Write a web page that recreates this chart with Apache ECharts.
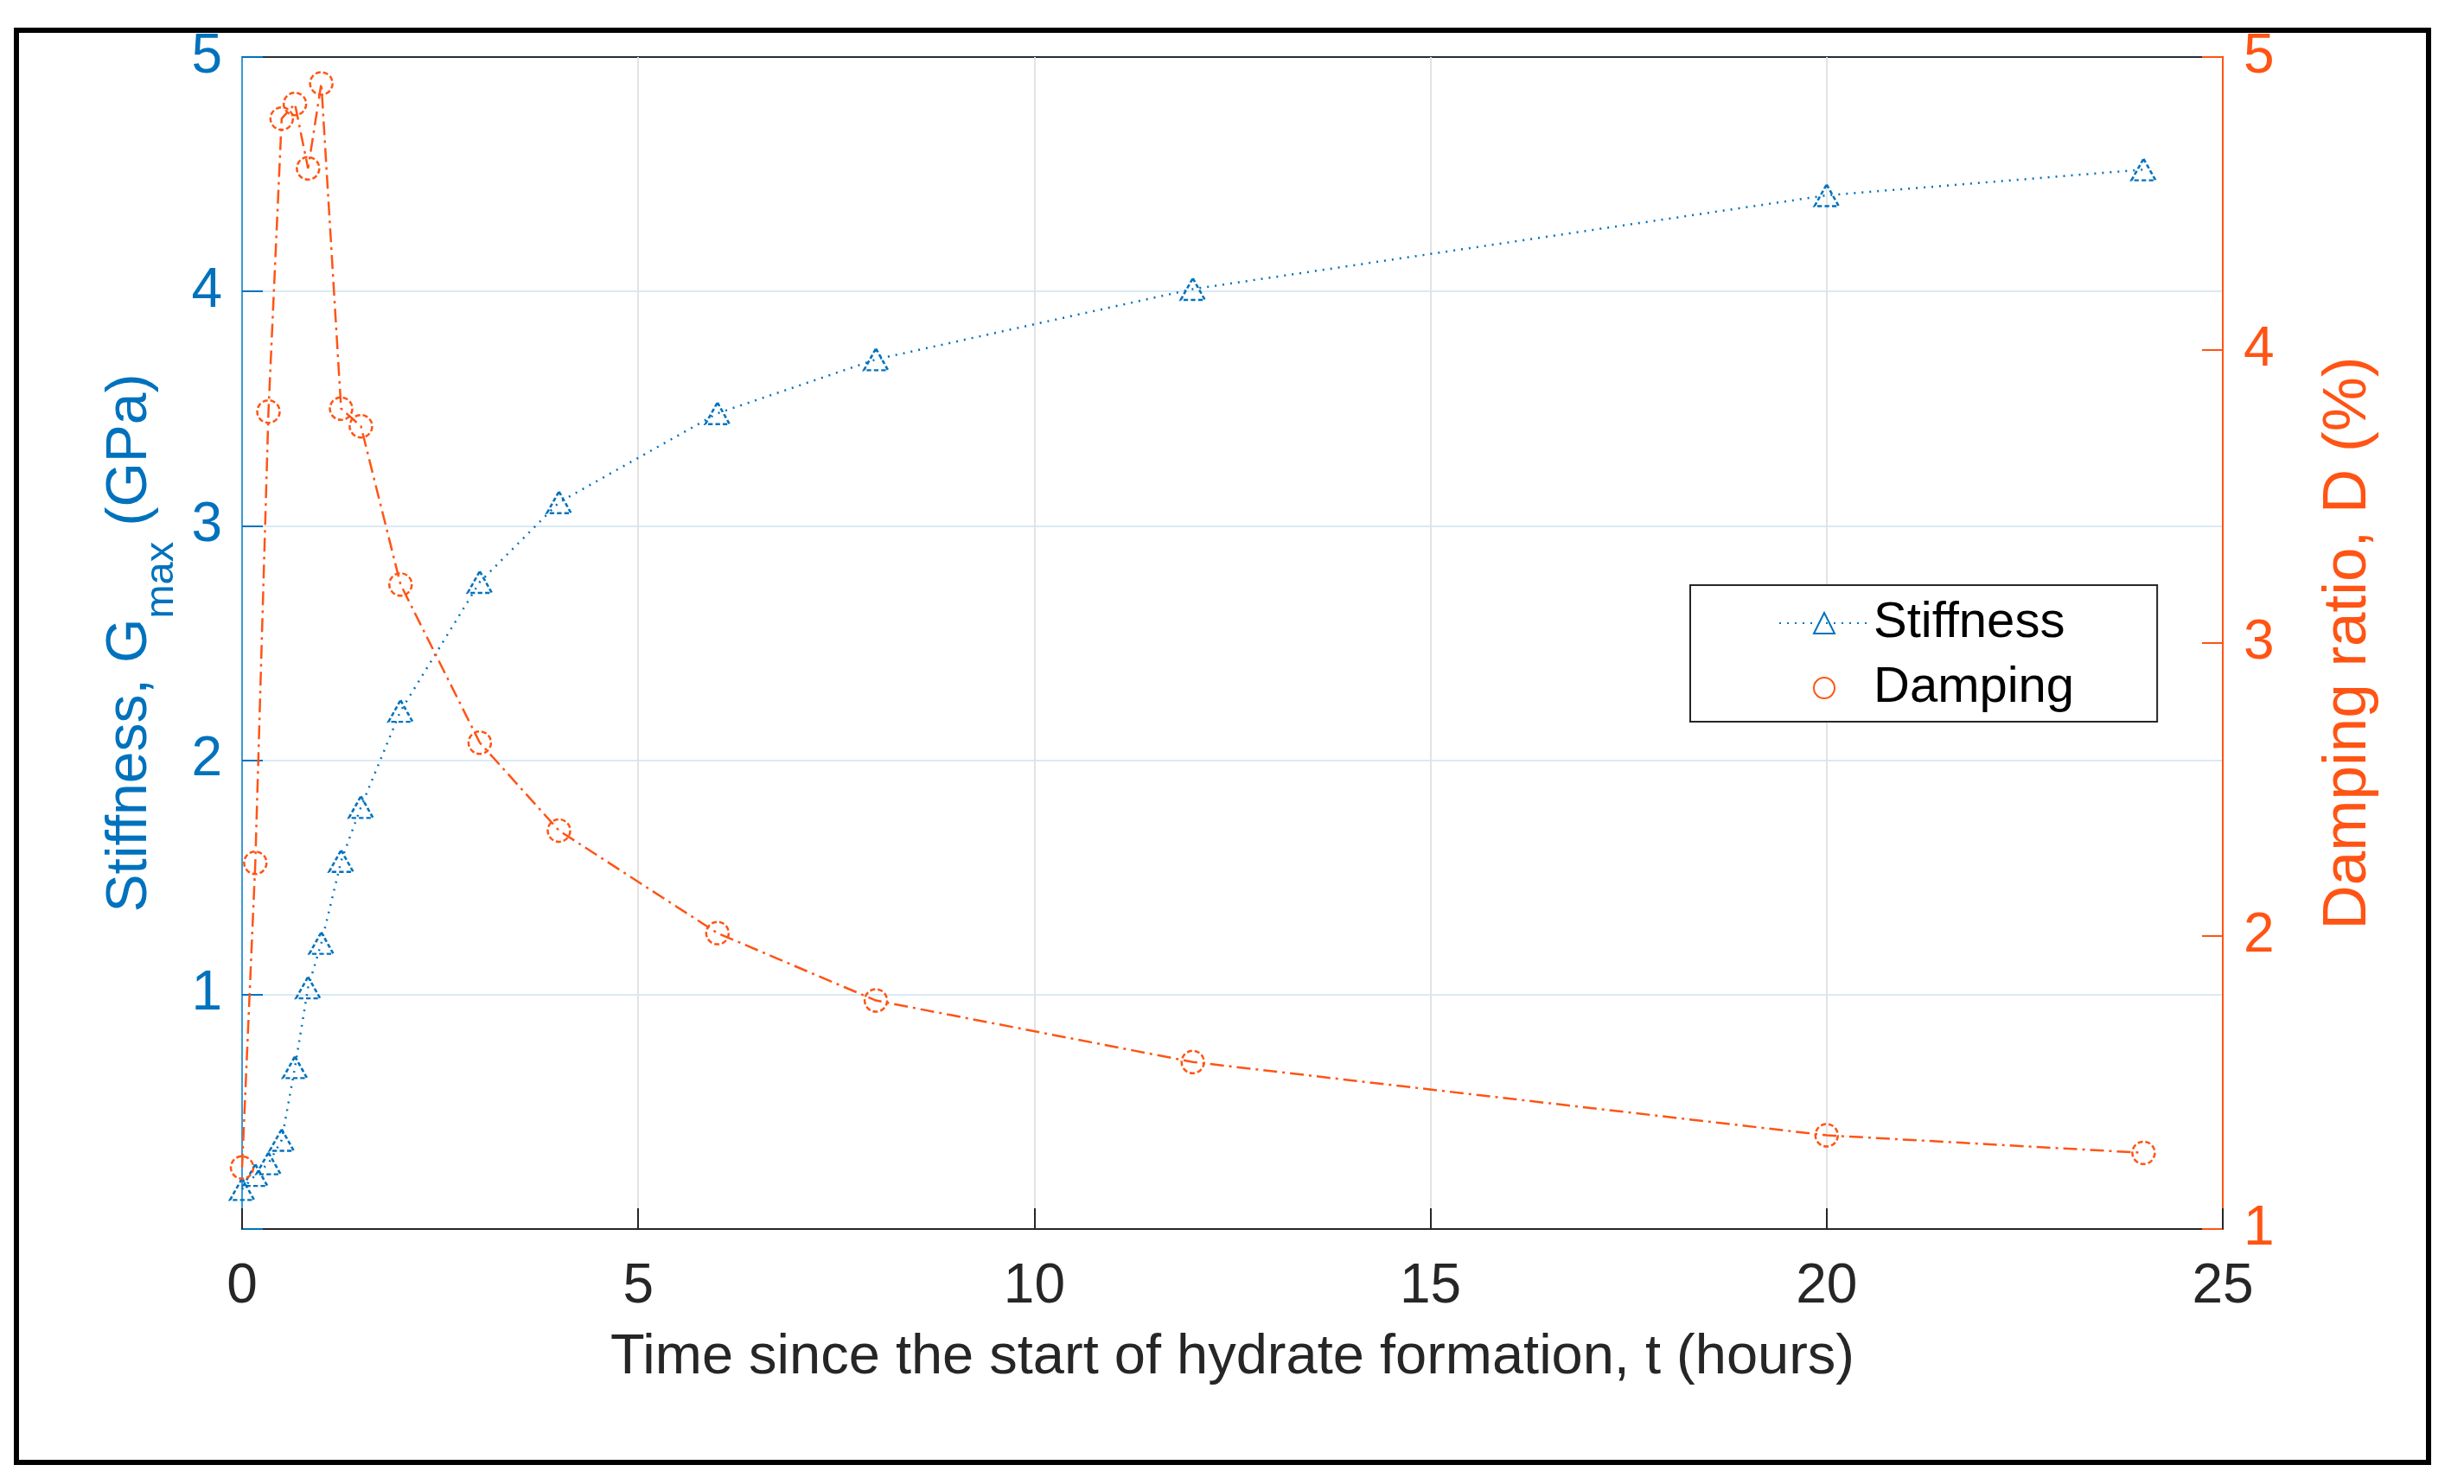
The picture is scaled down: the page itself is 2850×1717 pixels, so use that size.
<!DOCTYPE html>
<html><head><meta charset="utf-8">
<script src="https://cdn.jsdelivr.net/npm/echarts@6/dist/echarts.min.js"></script>
<style>html,body{margin:0;padding:0;background:#fff}#c{width:2850px;height:1717px}</style>
</head><body><div id="c"></div>
<script>
const timeHours = [0, 0.167, 0.333, 0.5, 0.667, 0.833, 1, 1.25, 1.5, 2, 3, 4, 6, 8, 12, 20, 24];
const stiffnessGPa = [0.17, 0.23, 0.28, 0.38, 0.69, 1.03, 1.22, 1.57, 1.80, 2.21, 2.76, 3.10, 3.48, 3.71, 4.01, 4.41, 4.52];
const dampingPct = [1.21, 2.25, 3.79, 4.79, 4.84, 4.62, 4.91, 3.80, 3.74, 3.20, 2.66, 2.36, 2.01, 1.78, 1.57, 1.32, 1.26];
const seriesNames = ['Stiffness', 'Damping'];
const xRange = [0, 25, 5];
const leftRange = [0, 5, 1];
const rightRange = [1, 5, 1];

const BLUE = '#0072BD';
const ORANGE = '#FF5414';
const DARK = '#262626';
const FONT = '"Liberation Sans", Arial, Helvetica, sans-serif';

const chart = echarts.init(document.getElementById('c'), null, {renderer: 'canvas'});
chart.setOption({
  animation: false,
  backgroundColor: '#fff',
  textStyle: {fontFamily: FONT},
  graphic: [{
    type: 'rect', shape: {x: 19, y: 35, width: 2790, height: 1657},
    style: {fill: 'none', stroke: '#000', lineWidth: 6}, silent: true, z: 100
  }],
  grid: {left: 280, right: 279, top: 66, bottom: 295, show: true, borderColor: DARK, borderWidth: 2, outerBoundsMode: 'none'},
  legend: {
    orient: 'vertical', left: 1955, top: 677,
    padding: [12, 96, 7, 102], itemGap: 11, itemWidth: 104, itemHeight: 30,
    borderColor: DARK, borderWidth: 2, backgroundColor: '#fff',
    textStyle: {fontSize: 58, color: '#000', fontFamily: FONT, lineHeight: 64},
    data: [{name: seriesNames[0]}, {name: seriesNames[1], lineStyle: {opacity: 0}}]
  },
  xAxis: {
    type: 'value', min: xRange[0], max: xRange[1], interval: xRange[2],
    name: 'Time since the start of hydrate formation, t (hours)',
    nameLocation: 'middle', nameGap: 117,
    nameTextStyle: {fontSize: 65, color: DARK, fontFamily: FONT},
    axisLine: {lineStyle: {color: DARK, width: 2}},
    axisTick: {inside: true, length: 24, lineStyle: {color: DARK, width: 2}},
    axisLabel: {fontSize: 64, color: DARK, margin: 35, fontFamily: FONT},
    splitLine: {show: true, lineStyle: {color: '#e3e3e3', width: 2}}
  },
  yAxis: [{
    type: 'value', position: 'left', min: leftRange[0], max: leftRange[1], interval: leftRange[2],
    name: '{a|Stiffness, G}{s|max}{a| (GPa)}',
    nameLocation: 'middle', nameRotate: 90, nameGap: 73,
    nameTextStyle: {
      color: BLUE, fontSize: 66, fontFamily: FONT,
      rich: {
        a: {fontSize: 66, lineHeight: 66, verticalAlign: 'top', color: BLUE, fontFamily: FONT},
        s: {fontSize: 47, lineHeight: 47, padding: [46, 0, 0, 0], verticalAlign: 'top', color: BLUE, fontFamily: FONT}
      }
    },
    axisLine: {show: true, lineStyle: {color: '#3a9ad8', width: 2}},
    axisTick: {inside: true, length: 24, lineStyle: {color: BLUE, width: 2}},
    axisLabel: {fontSize: 64, color: BLUE, margin: 23, fontFamily: FONT, formatter: v => v === 0 ? '' : String(v)},
    splitLine: {show: true, lineStyle: {color: 'rgba(0,114,189,0.15)', width: 2}}
  }, {
    type: 'value', position: 'right', min: rightRange[0], max: rightRange[1], interval: rightRange[2],
    name: 'Damping ratio, D (%)',
    nameLocation: 'middle', nameRotate: 90, nameGap: 110,
    nameTextStyle: {color: ORANGE, fontSize: 71, fontFamily: FONT},
    axisLine: {show: true, lineStyle: {color: ORANGE, width: 2}},
    axisTick: {inside: true, length: 24, lineStyle: {color: ORANGE, width: 2}},
    axisLabel: {fontSize: 64, color: ORANGE, margin: 24, fontFamily: FONT},
    splitLine: {show: false}
  }],
  series: [{
    name: seriesNames[0], type: 'line', yAxisIndex: 0,
    data: timeHours.map((t, i) => [t, stiffnessGPa[i]]),
    symbol: 'triangle', symbolSize: [28, 25],
    lineStyle: {color: BLUE, width: 2.5, type: [2, 7]},
    itemStyle: {color: 'rgba(255,255,255,0)', borderColor: BLUE, borderWidth: 2.5, borderType: [5, 3]},
    emphasis: {disabled: true}, z: 3
  }, {
    name: seriesNames[1], type: 'line', yAxisIndex: 1,
    data: timeHours.map((t, i) => [t, dampingPct[i]]),
    symbol: 'circle', symbolSize: 26,
    lineStyle: {color: ORANGE, width: 2.5, type: [16, 6, 3, 6]},
    itemStyle: {color: 'rgba(255,255,255,0)', borderColor: ORANGE, borderWidth: 2.5, borderType: [6, 3]},
    emphasis: {disabled: true}, z: 4
  }]
});
</script>
</body></html>
